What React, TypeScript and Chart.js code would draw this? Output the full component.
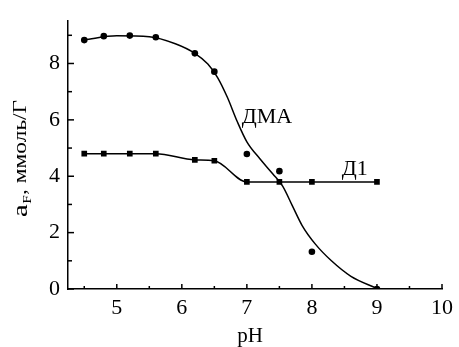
import React, { useEffect, useRef } from "react";
import { Chart, registerables } from "chart.js";

Chart.register(...registerables);

// ДМА measured points
const phDMA = [4.5, 4.8, 5.2, 5.6, 6.2, 6.5, 7.0, 7.5, 8.0, 9.0];
const aDMA = [8.83, 8.97, 8.99, 8.93, 8.36, 7.71, 4.79, 4.18, 1.32, 0.0];
// ДМА fitted curve
const phFit = [4.5, 5.0, 5.5, 5.9, 6.2, 6.4, 6.55, 6.7, 6.85, 7.0, 7.2, 7.4, 7.55, 7.7, 7.85, 8.05, 8.3, 8.6, 9.0];
const aFit = [8.84, 8.98, 8.95, 8.7, 8.36, 7.98, 7.5, 6.8, 5.95, 5.22, 4.62, 4.08, 3.65, 2.95, 2.25, 1.6, 1.0, 0.45, 0.02];
// Д1
const phD1 = [4.5, 4.8, 5.2, 5.6, 6.2, 6.5, 7.0, 7.5, 8.0, 9.0];
const aD1 = [4.8, 4.8, 4.8, 4.8, 4.58, 4.55, 3.8, 3.8, 3.8, 3.8];

const xMajorTicks = [5, 6, 7, 8, 9, 10];
const xMinorTicks = [4.5, 5.5, 6.5, 7.5, 8.5, 9.5];
const yMajorTicks = [0, 2, 4, 6, 8];
const yMinorTicks = [1, 3, 5, 7, 9];

const seriesNames = ["ДМА", "Д1"];
const xTitle = "pH";
const yTitleMain = "a";
const yTitleSub = "F";
const yTitleRest = ", ммоль/Г";

const SERIF = '"Liberation Serif"';

const decorPlugin = {
  id: "decor",
  afterDraw(chart: any) {
    const { ctx, scales, chartArea } = chart;
    const xs = scales.x;
    const ys = scales.y;
    ctx.save();
    ctx.strokeStyle = "#000";
    ctx.lineWidth = 1.5;
    const drawX = (v: number, len: number) => {
      const px = xs.getPixelForValue(v);
      ctx.beginPath();
      ctx.moveTo(px, chartArea.bottom);
      ctx.lineTo(px, chartArea.bottom - len);
      ctx.stroke();
    };
    xMajorTicks.forEach((v) => drawX(v, 5));
    xMinorTicks.forEach((v) => drawX(v, 3));
    const drawY = (v: number, len: number) => {
      const py = ys.getPixelForValue(v);
      ctx.beginPath();
      ctx.moveTo(chartArea.left, py);
      ctx.lineTo(chartArea.left + len, py);
      ctx.stroke();
    };
    yMajorTicks.forEach((v) => drawY(v, 6));
    yMinorTicks.forEach((v) => drawY(v, 4));

    ctx.fillStyle = "#000";
    ctx.font = `21px ${SERIF}`;
    ctx.textAlign = "center";
    ctx.textBaseline = "alphabetic";
    ctx.fillText(xTitle, (chartArea.left + chartArea.right) / 2 - 5, 342);

    // y title: a_F, ммоль/Г (reads bottom to top)
    ctx.translate(27, 217);
    ctx.rotate(-Math.PI / 2);
    ctx.scale(1.3, 1);
    ctx.textAlign = "left";
    const fA = `22px ${SERIF}`;
    const fSub = `12px ${SERIF}`;
    const fRest = `18px ${SERIF}`;
    ctx.font = fA;
    const wA = ctx.measureText(yTitleMain).width;
    ctx.font = fSub;
    const wF = ctx.measureText(yTitleSub).width;
    let x0 = 0;
    ctx.font = fA;
    ctx.fillText(yTitleMain, x0, 0);
    x0 += wA + 0.5;
    ctx.font = fSub;
    ctx.fillText(yTitleSub, x0, 4);
    x0 += wF;
    ctx.font = fRest;
    ctx.fillText(yTitleRest, x0, -1);
    ctx.restore();

    ctx.save();
    ctx.fillStyle = "#000";
    ctx.font = `22px ${SERIF}`;
    ctx.textAlign = "left";
    ctx.textBaseline = "alphabetic";
    ctx.fillText(seriesNames[0], xs.getPixelForValue(6.92), ys.getPixelForValue(5.9));
    ctx.fillText(seriesNames[1], xs.getPixelForValue(8.46), ys.getPixelForValue(4.03));
    ctx.restore();
  },
};

export default function App() {
  const ref = useRef<HTMLCanvasElement>(null);
  useEffect(() => {
    if (!ref.current) return;
    const chart = new Chart(ref.current, {
      type: "scatter",
      data: {
        datasets: [
          {
            label: "ДМА fit",
            data: phFit.map((x, i) => ({ x, y: aFit[i] })),
            showLine: true,
            borderColor: "#000",
            borderWidth: 1.5,
            pointRadius: 0,
            cubicInterpolationMode: "monotone",
            fill: false,
          } as any,
          {
            label: "ДМА",
            data: phDMA.map((x, i) => ({ x, y: aDMA[i] })),
            showLine: false,
            pointStyle: "circle",
            pointRadius: 3.3,
            backgroundColor: "#000",
            borderColor: "#000",
            borderWidth: 0,
          },
          {
            label: "Д1",
            data: phD1.map((x, i) => ({ x, y: aD1[i] })),
            showLine: true,
            borderColor: "#000",
            borderWidth: 1.5,
            cubicInterpolationMode: "monotone",
            pointStyle: "rect",
            pointRadius: 4,
            backgroundColor: "#000",
            pointBorderWidth: 0,
          } as any,
        ],
      },
      options: {
        animation: false,
        responsive: false,
        devicePixelRatio: 1,
        layout: { padding: { left: 0, top: 13, right: 16, bottom: 0 } },
        plugins: { legend: { display: false }, tooltip: { enabled: false } },
        scales: {
          x: {
            type: "linear",
            min: 4.25,
            max: 10,
            grid: { display: false, drawTicks: false },
            border: { display: true, color: "#000", width: 1.5 },
            ticks: {
              color: "#000",
              font: { family: SERIF, size: 22 },
              padding: 6,
              maxRotation: 0,
              autoSkip: false,
            },
            afterBuildTicks: (scale: any) => {
              scale.ticks = xMajorTicks.map((v) => ({ value: v }));
            },
            afterFit: (scale: any) => {
              scale.height = 58;
            },
          },
          y: {
            type: "linear",
            min: 0,
            max: 9.5,
            grid: { display: false, drawTicks: false },
            border: { display: true, color: "#000", width: 1.5 },
            ticks: {
              color: "#000",
              font: { family: SERIF, size: 22 },
              padding: 8,
              autoSkip: false,
            },
            afterBuildTicks: (scale: any) => {
              scale.ticks = yMajorTicks.map((v) => ({ value: v }));
            },
            afterFit: (scale: any) => {
              scale.width = 68;
            },
          },
        },
      },
      plugins: [decorPlugin],
    });
    return () => chart.destroy();
  }, []);
  return (
    <div style={{ position: "absolute", left: 0, top: 0, width: 459, height: 347, background: "#fff" }}>
      <canvas ref={ref} width={459} height={347} />
    </div>
  );
}
